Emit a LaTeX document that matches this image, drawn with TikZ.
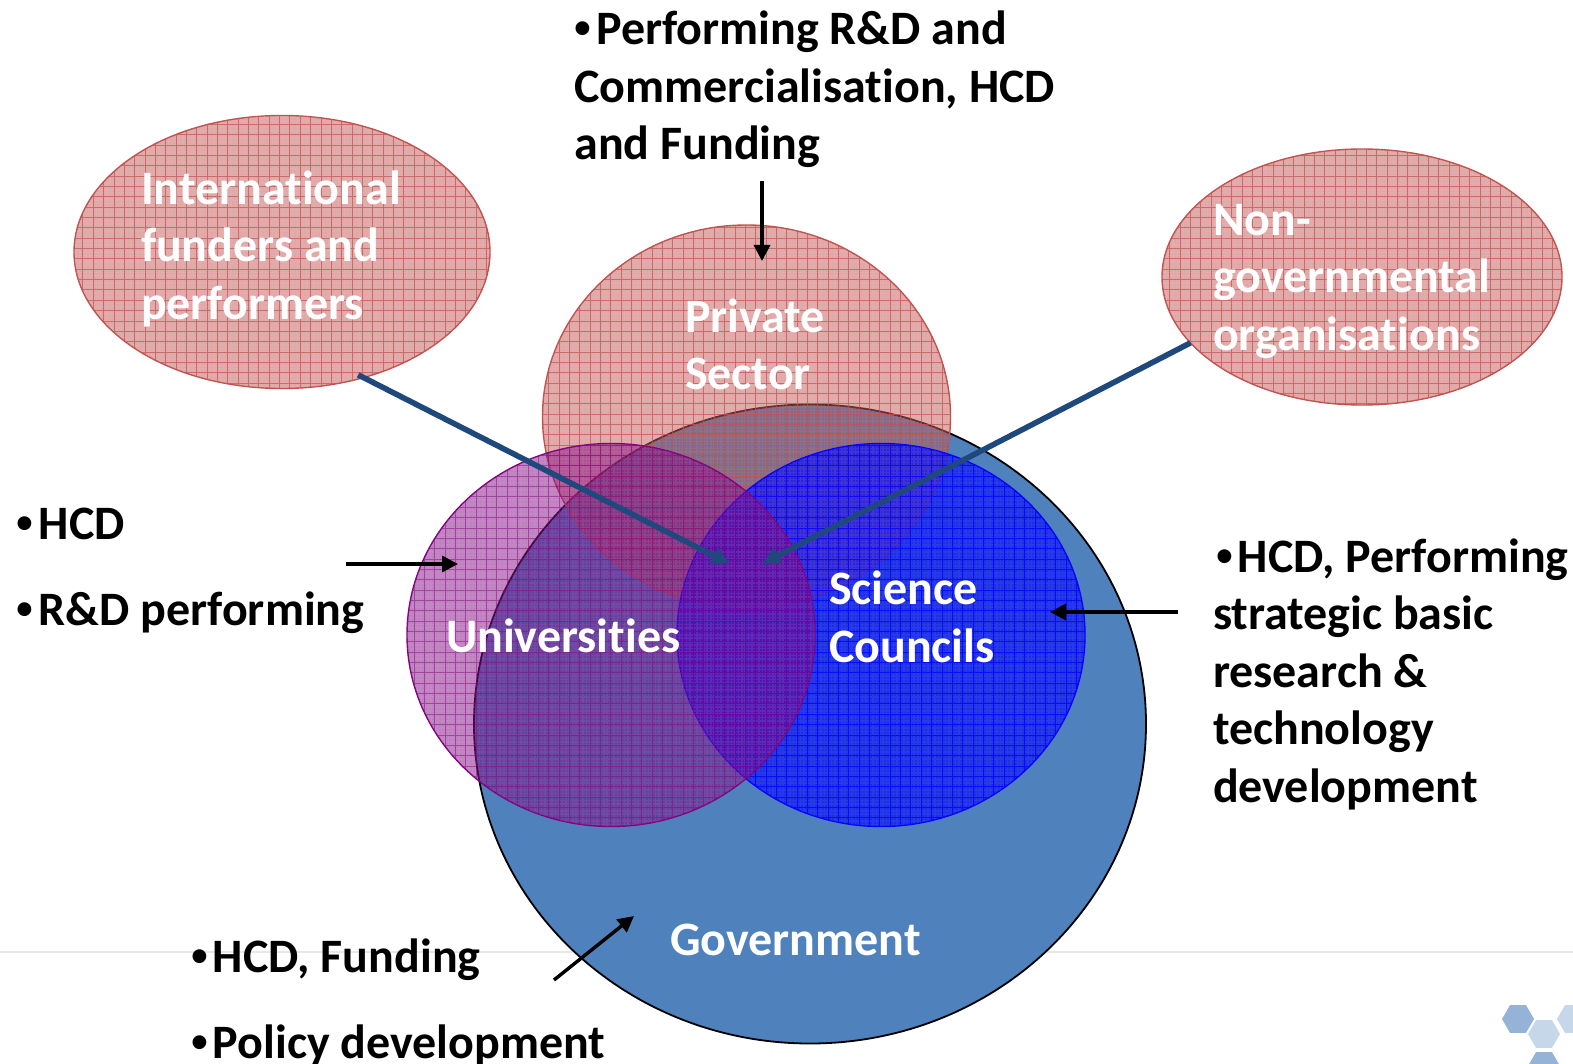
\documentclass[tikz,border=0pt]{standalone}
\usepackage{fontspec}
\setmainfont{Carlito}[Ligatures=NoCommon]
\newfontfamily\bulfont{Liberation Sans}
\newcommand{\bul}{{\bulfont\bfseries •}\hspace{2.5pt}}
\usetikzlibrary{arrows.meta,shapes.geometric}
\definecolor{redc}{HTML}{C0504D}
\definecolor{purc}{HTML}{800080}
\definecolor{bluc}{HTML}{0000FF}
\definecolor{govc}{HTML}{4F81BD}
\definecolor{navyc}{HTML}{1F497D}
\tikzset{
  blob/.style={ellipse,inner sep=0pt,outer sep=0pt},
  lab/.style={anchor=north west,inner sep=0pt,outer sep=0pt,align=left,font=\fontsize{24}{28.8}\selectfont\bfseries,text=black},
  wlab/.style={lab,text=white},
  thinarrow/.style={draw=black,line width=1.7pt,-{Triangle[length=8pt,width=8pt]}},
  navyarrow/.style={draw=navyc,line width=2.8pt,-{Triangle[length=9pt,width=8.5pt]}},
  hexa/.style={regular polygon,regular polygon sides=6,minimum size=16pt,inner sep=0pt,draw=none},
}
% name, cx, cy, rx, ry, colour, fill opacity, grid opacity
\newcommand{\hatchblob}[8]{%
  \node[blob,fill=#6,fill opacity=#7,draw=#6,line width=.7pt,minimum width=#4pt,minimum height=#5pt] (#1) at (#2,#3) {};
  \begin{scope}
    \clip (#2,#3) ellipse [x radius=#4,y radius=#5];
    \draw[white,opacity=.06,line width=.8pt,step=1.725pt] (#2-#4,#3-#5) grid (#2+#4,#3+#5);
    \draw[#6,opacity=#8,line width=.35pt,step=5.175pt] (#2-#4,#3-#5) grid (#2+#4,#3+#5);
  \end{scope}%
}
\begin{document}
\begin{tikzpicture}[x=0.5pt,y=-0.5pt]
\useasboundingbox (0,0) rectangle (1573,1064);
\coordinate (ruleL) at (0,952);
\coordinate (ruleR) at (1573,952);
\draw[black!9,line width=1.1pt] (ruleL) -- (ruleR);
\node[hexa,fill=govc!60] (hexA) at (1518,1019) {};
\node[hexa,fill=govc!32] (hexB) at (1544,1034) {};
\node[hexa,fill=govc!32] (hexC) at (1573,1019) {};
\node[hexa,fill=govc!60] (hexD) at (1544,1066) {};

\node[blob,fill=govc,draw=black,line width=.9pt,minimum width=336pt,minimum height=319.5pt] (gov) at (810,724) {};
\hatchblob{intl}{282}{252}{208}{136.5}{redc}{.5}{.7}
\hatchblob{ngo}{1362}{277}{200}{128}{redc}{.5}{.7}
\hatchblob{priv}{746.5}{416.5}{204}{191.5}{redc}{.5}{.7}
\hatchblob{sci}{881}{635}{204}{191.5}{bluc}{.65}{.8}
\hatchblob{uni}{611}{635}{204}{191.5}{purc}{.5}{.5}

\coordinate (tipL) at (730,564);
\coordinate (tipR) at (762,564);
\draw[navyarrow,shorten <=-3pt] (intl.-57) -- (tipL);
\draw[navyarrow] (ngo.201) -- (tipR);

\node[lab] (tTop) at (574.5,11) {\bul Performing R\&D and\\Commercialisation, HCD\\and Funding};
\node[lab] (tLeft) at (17,508) {\bul HCD\\[14.4pt]\bul R\&D performing};
\node[lab] (tRight) at (1213,538.5) {\hspace{1.5pt}\bul HCD, Performing\\strategic basic\\research \&\\technology\\development};
\node[lab] (tBot) at (191,939) {\bul HCD, Funding\\[14pt]\bul Policy development};

\node[wlab] (tIntl) at (141,170.5) {International\\funders and\\performers};
\node[wlab] (tNgo) at (1213,204) {Non-\\governmental\\organisations};
\node[wlab] (tPriv) at (685,298.5) {Private\\Sector};
\node[wlab] (tUni) at (446,619) {Universities};
\node[wlab] (tSci) at (829,571) {Science\\Councils};
\node[wlab] (tGov) at (670,924) {Government};

\coordinate (aTopS) at (762,181);
\coordinate (aTopE) at (762,261);
\draw[thinarrow] (aTopS) -- (aTopE);
\coordinate (aLeftS) at (346,564);
\coordinate (aLeftE) at (458,564);
\draw[thinarrow] (aLeftS) -- (aLeftE);
\coordinate (aRightS) at (1178,612);
\coordinate (aRightE) at (1050,612);
\draw[thinarrow] (aRightS) -- (aRightE);
\coordinate (aBotS) at (554,980);
\coordinate (aBotE) at (634,916);
\draw[thinarrow] (aBotS) -- (aBotE);
\end{tikzpicture}
\end{document}
